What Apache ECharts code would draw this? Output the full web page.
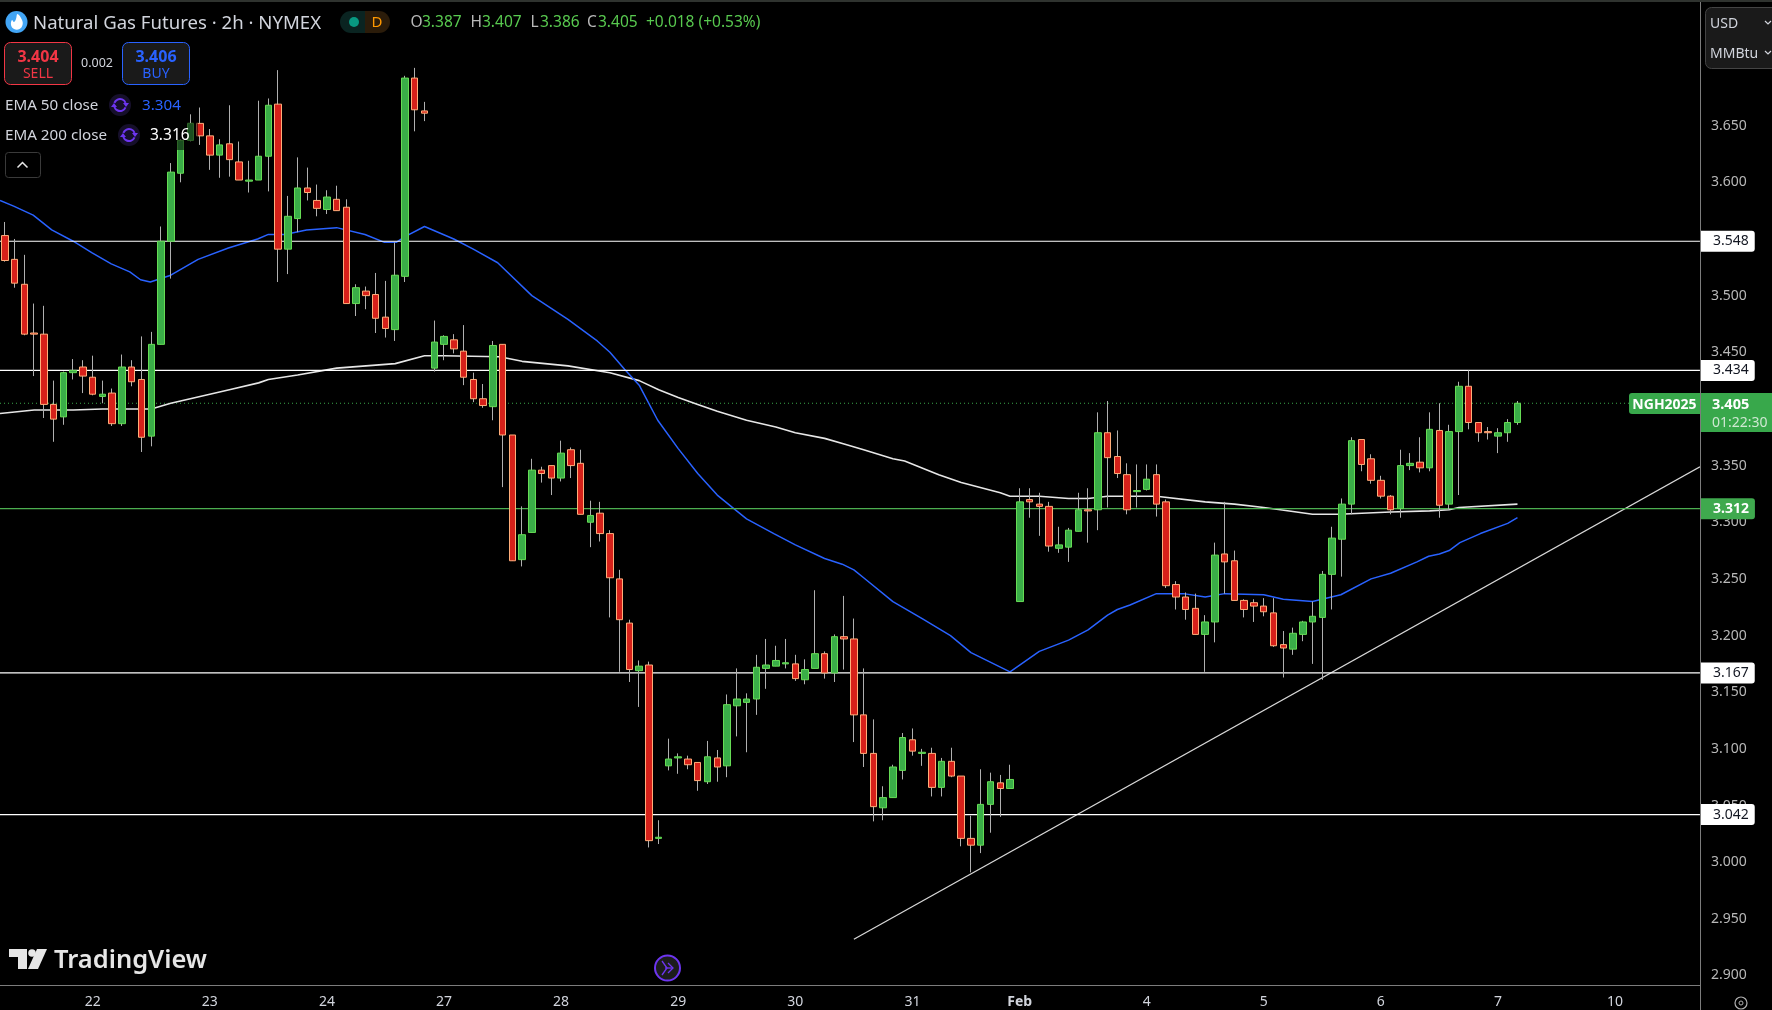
<!DOCTYPE html>
<html>
<head>
<meta charset="utf-8">
<title>Natural Gas Futures</title>
<style>
    html, body { margin: 0; padding: 0; background: #000; }
    #chart { width: 1772px; height: 1010px; }
</style>
</head>
<body>
<div id="chart"></div>
<script src="https://cdn.jsdelivr.net/npm/echarts@6/dist/echarts.min.js"></script>
<script>
// bar slots on the time axis, the last ones stay empty
var slotCount = 174;
var tickIndex = [9, 21, 33, 45, 57, 69, 81, 93, 104, 117, 129, 141, 153, 165];
var tickLabels = ['22', '23', '24', '27', '28', '29', '30', '31', 'Feb', '4', '5', '6', '7', '10'];
var priceTicks = [2.9, 2.95, 3, 3.05, 3.1, 3.15, 3.2, 3.25, 3.3, 3.35, 3.4, 3.45, 3.5, 3.55, 3.6, 3.65, 3.7];

var opens = [
    3.553, 3.532, 3.510, 3.467, 3.466, 3.404, 3.393, 3.432, 3.437, 3.428, 3.411, 3.414,
    3.387, 3.437, 3.426, 3.376, 3.457, 3.548, 3.608, 3.637, 3.652, 3.641, 3.624, 3.634,
    3.618, 3.601, 3.602, 3.623, 3.669, 3.541, 3.568, 3.595, 3.584, 3.576, 3.585, 3.578,
    3.493, 3.504, 3.501, 3.481, 3.470, 3.517, 3.692, 3.663, 3.436, 3.457, 3.461, 3.451,
    3.426, 3.409, 3.402, 3.457, 3.377, 3.267, 3.291, 3.346, 3.350, 3.339, 3.364, 3.352,
    3.300, 3.308, 3.290, 3.250, 3.211, 3.169, 3.174, 3.021, 3.085, 3.092, 3.091, 3.088,
    3.071, 3.092, 3.085, 3.138, 3.141, 3.144, 3.171, 3.173, 3.175, 3.175, 3.161, 3.171,
    3.184, 3.167, 3.199, 3.197, 3.130, 3.096, 3.048, 3.057, 3.081, 3.108, 3.096, 3.096,
    3.066, 3.089, 3.076, 3.021, 3.015, 3.051, 3.070, 3.065, 3.230, 3.320, 3.316, 3.314,
    3.277, 3.278, 3.292, 3.311, 3.311, 3.379, 3.358, 3.342, 3.327, 3.329, 3.342, 3.318,
    3.245, 3.234, 3.224, 3.201, 3.212, 3.272, 3.266, 3.231, 3.229, 3.226, 3.220, 3.192,
    3.188, 3.201, 3.212, 3.216, 3.254, 3.285, 3.316, 3.373, 3.356, 3.337, 3.323, 3.312,
    3.350, 3.353, 3.348, 3.381, 3.316, 3.380, 3.420, 3.388, 3.380, 3.376, 3.379, 3.388
];
var highs = [
    3.565, 3.550, 3.536, 3.493, 3.491, 3.425, 3.433, 3.444, 3.443, 3.447, 3.425, 3.418,
    3.448, 3.443, 3.464, 3.468, 3.561, 3.617, 3.638, 3.660, 3.666, 3.647, 3.638, 3.668,
    3.636, 3.619, 3.672, 3.674, 3.699, 3.588, 3.622, 3.613, 3.598, 3.593, 3.597, 3.585,
    3.510, 3.508, 3.520, 3.513, 3.547, 3.694, 3.701, 3.671, 3.478, 3.465, 3.466, 3.474,
    3.432, 3.422, 3.460, 3.457, 3.377, 3.314, 3.356, 3.349, 3.350, 3.372, 3.366, 3.364,
    3.319, 3.318, 3.293, 3.258, 3.214, 3.178, 3.177, 3.037, 3.109, 3.096, 3.094, 3.088,
    3.107, 3.099, 3.148, 3.171, 3.149, 3.183, 3.197, 3.191, 3.197, 3.183, 3.179, 3.240,
    3.186, 3.201, 3.235, 3.215, 3.171, 3.126, 3.067, 3.086, 3.114, 3.118, 3.100, 3.101,
    3.092, 3.101, 3.076, 3.041, 3.082, 3.079, 3.077, 3.086, 3.330, 3.330, 3.326, 3.318,
    3.296, 3.295, 3.326, 3.330, 3.397, 3.407, 3.381, 3.352, 3.351, 3.351, 3.351, 3.320,
    3.248, 3.238, 3.237, 3.218, 3.282, 3.318, 3.275, 3.232, 3.232, 3.233, 3.233, 3.204,
    3.207, 3.213, 3.230, 3.257, 3.296, 3.321, 3.375, 3.373, 3.360, 3.341, 3.324, 3.364,
    3.361, 3.375, 3.397, 3.405, 3.386, 3.424, 3.434, 3.388, 3.384, 3.383, 3.391, 3.407
];
var lows = [
    3.530, 3.507, 3.465, 3.429, 3.392, 3.371, 3.386, 3.426, 3.414, 3.412, 3.405, 3.385,
    3.385, 3.420, 3.362, 3.367, 3.457, 3.515, 3.600, 3.636, 3.633, 3.611, 3.604, 3.605,
    3.602, 3.591, 3.602, 3.592, 3.512, 3.519, 3.556, 3.584, 3.570, 3.572, 3.575, 3.493,
    3.482, 3.488, 3.467, 3.463, 3.460, 3.512, 3.645, 3.654, 3.433, 3.443, 3.449, 3.421,
    3.406, 3.401, 3.390, 3.331, 3.266, 3.261, 3.291, 3.335, 3.324, 3.336, 3.339, 3.307,
    3.278, 3.283, 3.216, 3.168, 3.159, 3.137, 3.013, 3.016, 3.081, 3.078, 3.082, 3.063,
    3.069, 3.071, 3.075, 3.111, 3.097, 3.130, 3.153, 3.173, 3.171, 3.160, 3.157, 3.171,
    3.162, 3.159, 3.170, 3.106, 3.084, 3.036, 3.037, 3.057, 3.073, 3.094, 3.085, 3.058,
    3.058, 3.075, 3.014, 2.991, 3.008, 3.026, 3.040, 3.065, 3.230, 3.304, 3.288, 3.274,
    3.273, 3.265, 3.292, 3.282, 3.293, 3.313, 3.339, 3.307, 3.313, 3.328, 3.305, 3.242,
    3.223, 3.214, 3.201, 3.168, 3.194, 3.237, 3.231, 3.216, 3.212, 3.217, 3.190, 3.163,
    3.183, 3.195, 3.175, 3.161, 3.223, 3.252, 3.307, 3.345, 3.334, 3.321, 3.307, 3.304,
    3.346, 3.344, 3.345, 3.304, 3.311, 3.324, 3.382, 3.371, 3.373, 3.361, 3.371, 3.386
];
var closes = [
    3.531, 3.511, 3.466, 3.466, 3.404, 3.391, 3.432, 3.434, 3.429, 3.413, 3.413, 3.387,
    3.437, 3.424, 3.375, 3.457, 3.548, 3.609, 3.637, 3.652, 3.641, 3.624, 3.633, 3.620,
    3.602, 3.602, 3.623, 3.668, 3.541, 3.570, 3.595, 3.591, 3.577, 3.587, 3.575, 3.493,
    3.507, 3.500, 3.480, 3.471, 3.518, 3.692, 3.664, 3.661, 3.459, 3.464, 3.453, 3.428,
    3.409, 3.403, 3.456, 3.377, 3.266, 3.289, 3.346, 3.343, 3.339, 3.361, 3.350, 3.307,
    3.306, 3.290, 3.251, 3.214, 3.170, 3.173, 3.019, 3.022, 3.091, 3.093, 3.086, 3.072,
    3.093, 3.084, 3.139, 3.144, 3.144, 3.172, 3.174, 3.178, 3.176, 3.162, 3.170, 3.184,
    3.167, 3.199, 3.197, 3.130, 3.096, 3.049, 3.057, 3.084, 3.110, 3.098, 3.097, 3.066,
    3.089, 3.076, 3.021, 3.015, 3.051, 3.071, 3.065, 3.073, 3.318, 3.318, 3.314, 3.279,
    3.280, 3.293, 3.311, 3.310, 3.379, 3.357, 3.343, 3.311, 3.328, 3.338, 3.316, 3.244,
    3.234, 3.223, 3.201, 3.212, 3.271, 3.265, 3.231, 3.223, 3.226, 3.221, 3.191, 3.189,
    3.202, 3.212, 3.217, 3.254, 3.286, 3.316, 3.372, 3.351, 3.337, 3.323, 3.311, 3.350,
    3.352, 3.348, 3.382, 3.315, 3.380, 3.420, 3.388, 3.379, 3.379, 3.379, 3.388, 3.405
];

// ema vertices [bar index, price]
var ema50Points = [
    [-0.5, 3.584], [0.9, 3.579], [2.9, 3.571], [4.8, 3.558], [7, 3.548], [8.9, 3.538], [10.9, 3.528], [12.8, 3.521],
    [13.9, 3.514], [14.9, 3.512], [17, 3.518], [19.8, 3.532], [22.9, 3.542], [25.9, 3.550], [27, 3.554], [28.7, 3.554],
    [30.9, 3.558], [34, 3.560], [36.9, 3.554], [38.9, 3.547], [40.1, 3.547], [41, 3.552], [43, 3.561], [46, 3.550],
    [48, 3.541], [50.5, 3.529], [54, 3.500], [57.7, 3.479], [60.7, 3.460], [62, 3.450], [63.5, 3.435], [65, 3.421],
    [66.9, 3.390], [69, 3.365], [71, 3.343], [73, 3.324], [74.7, 3.312], [76, 3.303], [78.8, 3.290], [81, 3.280],
    [84, 3.268], [85.8, 3.263], [87, 3.258], [88, 3.251], [91, 3.230], [94, 3.215], [96.9, 3.200], [99, 3.185],
    [103, 3.168], [106, 3.186], [109, 3.196], [111, 3.205], [113, 3.218], [114, 3.223], [115.3, 3.227], [118, 3.237],
    [120.8, 3.237], [123, 3.234], [125, 3.237], [129, 3.236], [131, 3.232], [134, 3.230], [136.9, 3.236], [140, 3.250],
    [142, 3.255], [144.7, 3.265], [145.9, 3.270], [147, 3.272], [148, 3.275], [149.1, 3.282], [151.2, 3.290], [154, 3.299],
    [155, 3.304]
];
var ema200Points = [
    [-0.5, 3.396], [3, 3.399], [7, 3.399], [10, 3.400], [15, 3.400], [17, 3.405], [20, 3.411], [23, 3.417],
    [26, 3.423], [27, 3.426], [30, 3.430], [34, 3.436], [37, 3.438], [40, 3.440], [43, 3.447], [45, 3.447],
    [50.7, 3.446], [53, 3.442], [57.7, 3.438], [62, 3.432], [65, 3.425], [67, 3.417], [69, 3.410], [71, 3.404],
    [73, 3.398], [76, 3.390], [79, 3.384], [81, 3.379], [84, 3.374], [86, 3.369], [88, 3.364], [91, 3.356],
    [92.2, 3.354], [95.7, 3.342], [98, 3.335], [102, 3.326], [103, 3.323], [106, 3.323], [109, 3.321], [111, 3.321],
    [113, 3.323], [118, 3.323], [123, 3.318], [126, 3.316], [129, 3.313], [130.7, 3.311], [134, 3.307], [136.7, 3.307],
    [142, 3.309], [146, 3.310], [148, 3.311], [149, 3.313], [155, 3.316]
];
var trendPoints = [[87, 2.932], [173.7, 3.349]];
var whiteLevels = [3.548, 3.434, 3.167, 3.042];
var greenLevel = 3.312;
var lastPrice = 3.405;

var fontName = '"Noto Sans", sans-serif';
var greenFill = '#3aad48', greenEdge = '#66dc55';
var redFill = '#d6211a', redEdge = '#ffae7a';

var categories = [];
for (var i = 0; i < slotCount; i++) { categories.push(String(i)); }

var wickData = [], bodyData = [];
opens.forEach(function (o, i) {
    wickData.push([o, closes[i], lows[i], highs[i]]);
    bodyData.push([o, closes[i], Math.min(o, closes[i]), Math.max(o, closes[i])]);
});

function levelSeries(value, color, tagColor, textColor) {
    return {
        type: 'line', xAxisIndex: 1, clip: false, silent: true, symbol: 'none', z: 3,
        data: [[-0.5, value], [173.7, value]],
        lineStyle: { color: color, width: 1.2 },
        endLabel: {
            show: true, distance: 1, formatter: value.toFixed(3),
            backgroundColor: tagColor, color: textColor, fontFamily: fontName, fontSize: 14,
            fontWeight: tagColor === '#ffffff' ? 'normal' : 'bold',
            align: 'left', padding: [4, 6, 0, 12], lineHeight: 17, borderRadius: [0, 3, 3, 0]
        }
    };
}

function txt(x, y, text, fill, size, extra) {
    var style = { x: x, y: y, text: text, fill: fill, font: (extra && extra.weight || 'normal') + ' ' + size + 'px ' + fontName,
        textVerticalAlign: 'middle', textAlign: extra && extra.align || 'left' };
    return { type: 'text', z: 200, silent: true, style: style };
}
function box(x, y, w, h, fill, stroke, r, z) {
    return { type: 'rect', z: z || 199, silent: true, shape: { x: x, y: y, width: w, height: h, r: r || 0 },
        style: { fill: fill, stroke: stroke || null, lineWidth: stroke ? 1 : 0 } };
}
function refreshIcon(cx, cy) {
    return [
        { type: 'circle', z: 199, silent: true, shape: { cx: cx, cy: cy, r: 11 }, style: { fill: '#160f2b' } },
        { type: 'arc', z: 200, silent: true, shape: { cx: cx, cy: cy, r: 6, startAngle: 3.5, endAngle: 5.9 }, style: { fill: null, stroke: '#6d35f0', lineWidth: 2 } },
        { type: 'arc', z: 200, silent: true, shape: { cx: cx, cy: cy, r: 6, startAngle: 0.4, endAngle: 2.8 }, style: { fill: null, stroke: '#6d35f0', lineWidth: 2 } },
        { type: 'polygon', z: 200, silent: true, shape: { points: [[cx + 3, cy - 2], [cx + 9, cy - 2], [cx + 6, cy + 2]] }, style: { fill: '#6d35f0' } },
        { type: 'polygon', z: 200, silent: true, shape: { points: [[cx - 9, cy + 2], [cx - 3, cy + 2], [cx - 6, cy - 2]] }, style: { fill: '#6d35f0' } }
    ];
}

var grey = '#d1d4dc', letterGrey = '#b8b8b8', ohlcGreen = '#58c94f';

var overlay = [
    // frame
    box(0, 0, 1772, 2, '#2f332f', null, 0, 190),
    box(1700, 2, 1, 1008, '#7c7c7c', null, 0, 190),
    box(0, 985, 1700, 1, '#7c7c7c', null, 0, 190),
    // symbol header
    { type: 'circle', z: 199, silent: true, shape: { cx: 16.5, cy: 22, r: 11 }, style: { fill: '#42a5f5' } },
    { type: 'polygon', z: 200, silent: true, shape: { smooth: 0.4, points: [[17.5, 14], [22, 20], [22.5, 25], [19.5, 29], [14, 29], [11, 25], [12, 20], [14, 22], [16, 19]] }, style: { fill: '#ffffff' } },
    txt(33, 24, 'Natural Gas Futures \u00b7 2h \u00b7 NYMEX', grey, 18.6),
    box(340, 11, 25, 22, '#0a2421', null, [11, 0, 0, 11]),
    box(365, 11, 25, 22, '#2b1c0a', null, [0, 11, 11, 0]),
    { type: 'circle', z: 200, silent: true, shape: { cx: 354, cy: 22, r: 5 }, style: { fill: '#089981' } },
    txt(377, 23, 'D', '#ff9800', 15, { align: 'center' }),
    txt(410.5, 23, 'O', letterGrey, 15.5), txt(422, 23, '3.387', ohlcGreen, 15.5),
    txt(470.5, 23, 'H', letterGrey, 15.5), txt(482, 23, '3.407', ohlcGreen, 15.5),
    txt(530.5, 23, 'L', letterGrey, 15.5), txt(540, 23, '3.386', ohlcGreen, 15.5),
    txt(587, 23, 'C', letterGrey, 15.5), txt(598, 23, '3.405', ohlcGreen, 15.5),
    txt(646, 23, '+0.018 (+0.53%)', ohlcGreen, 15.5),
    // sell / buy
    box(4.5, 42.5, 67, 42, '#1a1a1a', '#f23645', 6),
    txt(38, 57, '3.404', '#f23645', 16, { align: 'center', weight: 'bold' }),
    txt(38, 74, 'SELL', '#f23645', 14, { align: 'center' }),
    txt(97, 63, '0.002', '#d1d4dc', 12.5, { align: 'center' }),
    box(122.5, 42.5, 67, 42, '#1a1a1a', '#2962ff', 6),
    txt(156, 57, '3.406', '#2962ff', 16, { align: 'center', weight: 'bold' }),
    txt(156, 74, 'BUY', '#2962ff', 14, { align: 'center' }),
    // indicators
    txt(5, 106, 'EMA 50 close', grey, 15.2),
    txt(142, 106, '3.304', '#2962ff', 15.2),
    txt(5, 136, 'EMA 200 close', grey, 15.2),
    box(148, 123, 50, 27, 'rgba(0,0,0,0.55)', null, 0, 198),
    txt(150, 136, '3.316', '#ffffff', 15.5),
    box(5.5, 152.5, 35, 25, '#000000', '#3a3a3a', 3),
    { type: 'polyline', z: 200, silent: true, shape: { points: [[17.5, 167.5], [22.5, 162.5], [27.5, 167.5]] }, style: { fill: null, stroke: '#e8e8e8', lineWidth: 1.5 } },
    // price axis buttons, the dark strip masks most of the 3.700 label
    box(1701, 2, 71, 71, '#000000', null, 0, 198),
    box(1705.5, 7.5, 80, 61, '#1a1a1a', '#444444', 6),
    txt(1710, 24, 'USD', '#d1d4dc', 14),
    txt(1710, 54, 'MMBtu', '#d1d4dc', 14),
    { type: 'polyline', z: 200, silent: true, shape: { points: [[1765, 21], [1768, 24], [1771, 21]] }, style: { fill: null, stroke: '#d1d4dc', lineWidth: 1.2 } },
    { type: 'polyline', z: 200, silent: true, shape: { points: [[1765, 51], [1768, 54], [1771, 51]] }, style: { fill: null, stroke: '#d1d4dc', lineWidth: 1.2 } },
    // last price tags
    box(1629, 393, 71, 21, '#38a84b', null, [3, 0, 0, 3]),
    txt(1664.5, 405, 'NGH2025', '#ffffff', 14, { align: 'center', weight: 'bold' }),
    box(1701, 393, 71, 39, '#38a84b'),
    txt(1712, 405, lastPrice.toFixed(3), '#ffffff', 14.5, { weight: 'bold' }),
    txt(1712, 423, '01:22:30', '#cfe8d2', 14),
    // watermark
    { type: 'polygon', z: 200, silent: true, shape: { points: [[9, 949], [27, 949], [27, 969], [18, 969], [18, 957], [9, 957]] }, style: { fill: '#e6e6e6' } },
    { type: 'circle', z: 200, silent: true, shape: { cx: 32, cy: 953, r: 3.8 }, style: { fill: '#e6e6e6' } },
    { type: 'polygon', z: 200, silent: true, shape: { points: [[37, 949], [47, 949], [38, 969], [28, 969]] }, style: { fill: '#e6e6e6' } },
    txt(54, 961, 'TradingView', '#e6e6e6', 25.5, { weight: '600' }),
    // jump to realtime
    { type: 'circle', z: 199, silent: true, shape: { cx: 667.5, cy: 968, r: 12.5 }, style: { fill: '#1c1c1c', stroke: '#6d35f0', lineWidth: 2 } },
    { type: 'polyline', z: 200, silent: true, shape: { points: [[662, 961], [667, 968], [662, 975]] }, style: { fill: null, stroke: '#6d35f0', lineWidth: 1.3 } },
    { type: 'polyline', z: 200, silent: true, shape: { points: [[668, 963], [673, 968], [668, 973]] }, style: { fill: null, stroke: '#6d35f0', lineWidth: 1.3 } },
    { type: 'polyline', z: 200, silent: true, shape: { points: [[665, 968], [673, 968]] }, style: { fill: null, stroke: '#6d35f0', lineWidth: 1.3 } },
    // settings
    { type: 'circle', z: 200, silent: true, shape: { cx: 1741, cy: 1003, r: 6 }, style: { fill: null, stroke: '#b0b0b0', lineWidth: 1.2 } },
    { type: 'circle', z: 200, silent: true, shape: { cx: 1741, cy: 1003, r: 2 }, style: { fill: null, stroke: '#b0b0b0', lineWidth: 1 } }
].concat(refreshIcon(120, 105), refreshIcon(129, 135));

var myChart = echarts.init(document.getElementById('chart'));

var option = {
    animation: false,
    backgroundColor: '#000000',
    grid: { left: -1.6, right: 74, top: 6, bottom: 25 },
    xAxis: [{
        type: 'category',
        data: categories,
        axisLine: { show: false },
        axisTick: { show: false },
        splitLine: { show: false },
        axisLabel: {
            color: '#d1d4dc', fontFamily: fontName, fontSize: 14, margin: 10,
            interval: function (index) { return tickIndex.indexOf(index) >= 0; },
            formatter: function (value, index) {
                var label = tickLabels[tickIndex.indexOf(index)];
                return label === 'Feb' ? '{month|Feb}' : label;
            },
            rich: { month: { color: '#d1d4dc', fontFamily: fontName, fontSize: 14, fontWeight: 'bold' } }
        }
    }, {
        type: 'value', show: false, min: -0.5, max: slotCount - 0.5, splitLine: { show: false }
    }],
    yAxis: {
        type: 'value',
        position: 'right',
        min: 2.8916,
        max: 3.7556,
        scale: true,
        axisLine: { show: false },
        axisTick: { show: false },
        splitLine: { show: false },
        axisLabel: {
            customValues: priceTicks,
            color: '#b8b8b8', fontFamily: fontName, fontSize: 14, margin: 13, padding: [4, 0, 0, 0],
            formatter: function (value) { return value.toFixed(3); }
        }
    },
    series: [
        { name: 'EMA 200', type: 'line', xAxisIndex: 1, symbol: 'none', z: 3, data: ema200Points, lineStyle: { color: '#e6e6e6', width: 1.6 } },
        { name: 'EMA 50', type: 'line', xAxisIndex: 1, symbol: 'none', z: 3, data: ema50Points, lineStyle: { color: '#2962ff', width: 1.5 } },
        { name: 'Trend', type: 'line', xAxisIndex: 1, clip: false, symbol: 'none', z: 3, data: trendPoints, lineStyle: { color: '#d8d8d8', width: 1.2 } },
        { name: 'Last', type: 'line', xAxisIndex: 1, clip: false, symbol: 'none', z: 2, data: [[-0.5, lastPrice], [173.7, lastPrice]], lineStyle: { color: '#3aa84b', width: 1, type: [1, 3] } },
        levelSeries(whiteLevels[0], '#ffffff', '#ffffff', '#131722'),
        levelSeries(whiteLevels[1], '#ffffff', '#ffffff', '#131722'),
        levelSeries(whiteLevels[2], '#ffffff', '#ffffff', '#131722'),
        levelSeries(whiteLevels[3], '#ffffff', '#ffffff', '#131722'),
        levelSeries(greenLevel, '#4caf50', '#3fa94e', '#ffffff'),
        {
            name: 'Wicks', type: 'candlestick', xAxisIndex: 0, z: 5, barWidth: 1, data: wickData,
            itemStyle: { color: '#b0b0b0', color0: '#b0b0b0', borderColor: '#b0b0b0', borderColor0: '#b0b0b0', borderWidth: 1 }
        },
        {
            name: 'NGH2025', type: 'candlestick', xAxisIndex: 0, z: 6, barWidth: 7, data: bodyData,
            itemStyle: { color: greenFill, color0: redFill, borderColor: greenEdge, borderColor0: redEdge, borderWidth: 1 }
        }
    ],
    graphic: { elements: overlay }
};

myChart.setOption(option);
</script>
</body>
</html>
